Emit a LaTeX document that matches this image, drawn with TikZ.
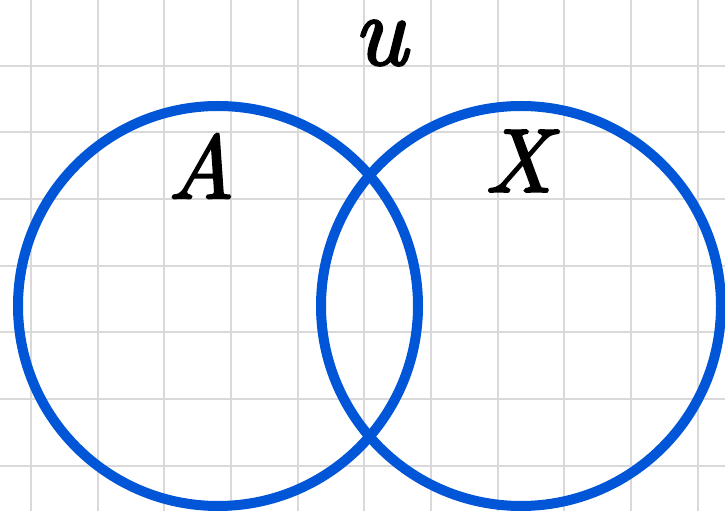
\documentclass[tikz,border=0pt]{standalone}
\usepackage{fontspec}
\newfontfamily\lblfont{lmroman10-italic}[Extension=.otf, FakeBold=2.5]
\definecolor{gridgray}{RGB}{217,217,217}
\definecolor{vennblue}{RGB}{0,86,214}
\tikzset{
  gridline/.style={draw=gridgray, line width=2.2pt},
  setcircle/.style={draw=vennblue, line width=10pt},
  setlabel/.style={inner sep=0pt, font=\fontsize{90}{90}\lblfont}
}
\begin{document}
\begin{tikzpicture}[x=1pt,y=1pt]
\useasboundingbox (0,0) rectangle (725,511);
\fill[white] (0,0) rectangle (725,511);
\foreach \k in {0,...,10} {
  \draw[gridline] ({31+66.67*\k},0) -- ({31+66.67*\k},511);
}
\foreach \k in {0,...,7} {
  \draw[gridline] (0,{512-66.67*\k}) -- (725,{512-66.67*\k});
}
\node[setcircle, circle, minimum size=400pt, inner sep=0pt] (A) at (218,205) {};
\node[setcircle, circle, minimum size=400pt, inner sep=0pt] (X) at (521,205) {};
\node[setlabel, font=\fontsize{100}{100}\lblfont] (U) at (380,468) {u};
\node[setlabel] (LA) at (201,345) {A};
\node[setlabel] (LX) at (518,350) {X};
\end{tikzpicture}
\end{document}
